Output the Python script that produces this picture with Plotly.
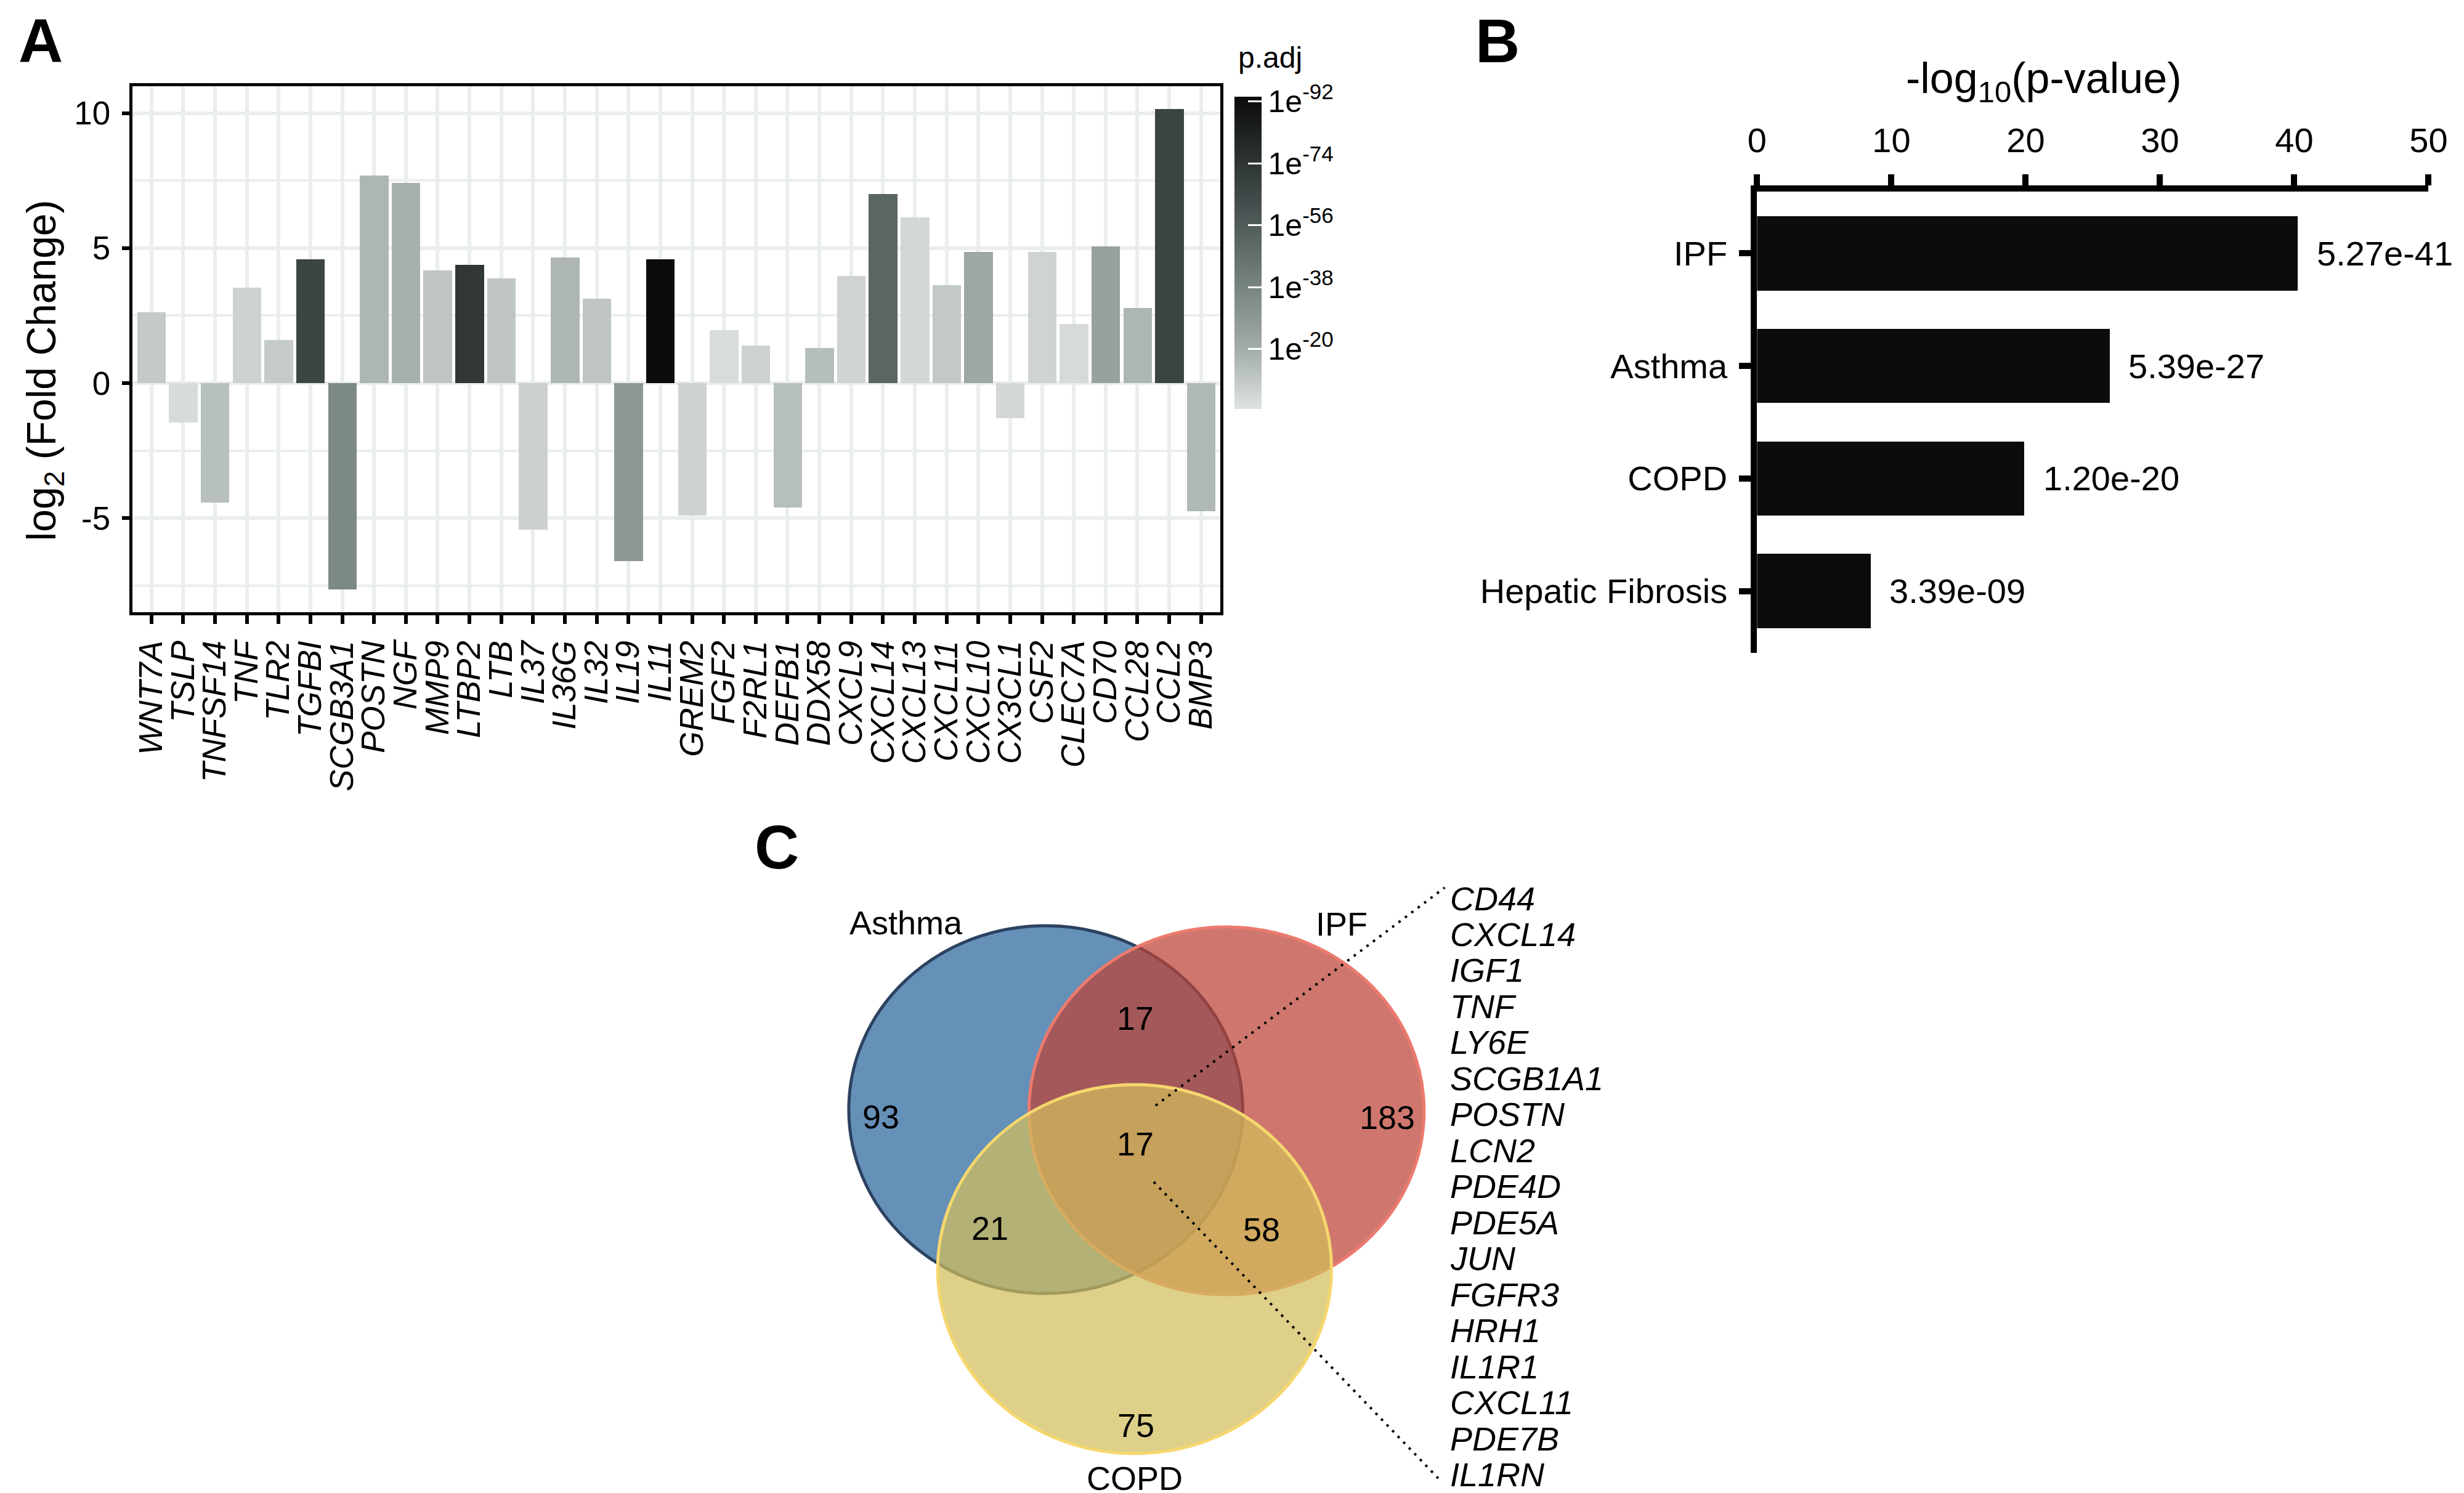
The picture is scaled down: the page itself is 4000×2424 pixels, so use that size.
import plotly.graph_objects as go

W, H = 4000, 2424
FONT = "Liberation Sans, Arial, Helvetica, sans-serif"

# ---------------- Panel A data ----------------
genes = ["WNT7A", "TSLP", "TNFSF14", "TNF", "TLR2", "TGFBI", "SCGB3A1", "POSTN", "NGF",
         "MMP9", "LTBP2", "LTB", "IL37", "IL36G", "IL32", "IL19", "IL11", "GREM2", "FGF2",
         "F2RL1", "DEFB1", "DDX58", "CXCL9", "CXCL14", "CXCL13", "CXCL11", "CXCL10",
         "CX3CL1", "CSF2", "CLEC7A", "CD70", "CCL28", "CCL2", "BMP3"]
log2_fc = [2.62, -1.46, -4.43, 3.54, 1.59, 4.58, -7.65, 7.68, 7.41,
           4.17, 4.39, 3.87, -5.44, 4.65, 3.13, -6.59, 4.59, -4.90, 1.96,
           1.40, -4.62, 1.29, 3.98, 7.00, 6.15, 3.64, 4.87,
           -1.29, 4.87, 2.18, 5.07, 2.79, 10.15, -4.74]
neg_log10_padj = [10.6, 5.0, 13.9, 7.6, 10.2, 66.8, 35.8, 16.9, 18.9,
                  12.2, 72.8, 11.9, 8.2, 16.9, 12.2, 29.1, 93.4, 7.6, 4.6,
                  8.0, 14.0, 14.5, 7.3, 51.8, 6.0, 11.0, 22.5,
                  6.0, 7.3, 5.2, 24.8, 17.0, 67.0, 15.9]
padj_tickvals = [20, 38, 56, 74, 92]
padj_ticktext = ["1e<sup>-20</sup>", "1e<sup>-38</sup>", "1e<sup>-56</sup>",
                 "1e<sup>-74</sup>", "1e<sup>-92</sup>"]

# ---------------- Panel B data ----------------
diseases = ["IPF", "Asthma", "COPD", "Hepatic Fibrosis"]
neg_log10_p = [40.28, 26.27, 19.92, 8.47]
p_labels = ["5.27e-41", "5.39e-27", "1.20e-20", "3.39e-09"]

# ---------------- Panel C data ----------------
venn_sets = ["Asthma", "IPF", "COPD"]
venn_counts = {"A": 93, "I": 183, "C": 75, "AI": 17, "AC": 21, "IC": 58, "AIC": 17}
shared_genes = ["CD44", "CXCL14", "IGF1", "TNF", "LY6E", "SCGB1A1", "POSTN", "LCN2",
                "PDE4D", "PDE5A", "JUN", "FGFR3", "HRH1", "IL1R1", "CXCL11", "PDE7B", "IL1RN"]


def px(x):
    return x / W


def py(y):
    return 1 - y / H


gray_scale = [[0.0, "#dfe3e2"], [0.19, "#a3adab"], [0.39, "#788482"],
              [0.59, "#505b5a"], [0.79, "#2e3434"], [1.0, "#0b0c0b"]]

fig = go.Figure()

# Panel A bars
fig.add_trace(go.Bar(
    x=genes, y=log2_fc, width=0.9, showlegend=False,
    marker=dict(
        color=neg_log10_padj, colorscale=gray_scale, cmin=2.6, cmax=93.4,
        line=dict(width=0),
        colorbar=dict(
            x=px(2004), xanchor="left", xpad=0,
            y=py(149), yanchor="top", ypad=0,
            len=507, lenmode="pixels", thickness=44, thicknessmode="pixels",
            outlinewidth=0,
            tickmode="array", tickvals=padj_tickvals, ticktext=padj_ticktext,
            ticks="inside", ticklen=22, tickwidth=3, tickcolor="white",
            tickfont=dict(size=50, color="black", family=FONT),
        ),
    ),
    xaxis="x", yaxis="y",
))

# Panel B bars
fig.add_trace(go.Bar(
    x=neg_log10_p, y=diseases, orientation="h", width=0.66, showlegend=False,
    marker=dict(color="#0b0c0b", line=dict(width=0)),
    xaxis="x2", yaxis="y2",
))

annotations = []
shapes = []

# colour bar title
annotations.append(dict(x=px(2008), y=py(86), xref="paper", yref="paper", text="p.adj",
                        showarrow=False, xanchor="left", yanchor="middle",
                        font=dict(size=48, color="black", family=FONT)))

# Panel B value labels
for d, v, lab in zip(diseases, neg_log10_p, p_labels):
    annotations.append(dict(x=v, y=d, xref="x2", yref="y2", text=lab, showarrow=False,
                            xanchor="left", yanchor="middle", xshift=28,
                            font=dict(size=56, color="black", family=FONT)))

# Panel letters
for letter, x, y, anchor in [("A", 4, 1.0, "top"), ("B", 2397, 1.0, "top"),
                             ("C", 1213, py(1367), "middle")]:
    annotations.append(dict(x=px(x), y=y, xref="paper", yref="paper", text=f"<b>{letter}</b>",
                            showarrow=False, xanchor="left", yanchor=anchor,
                            font=dict(size=100, color="black", family=FONT)))

# Panel A y title
annotations.append(dict(x=px(49), y=py(593), xref="paper", yref="paper",
                        text="log<sub>2</sub> (Fold Change)", textangle=-90, showarrow=False,
                        xanchor="center", yanchor="middle",
                        font=dict(size=66, color="black", family=FONT)))

# Panel B x title
annotations.append(dict(x=px(3333), y=py(124), xref="paper", yref="paper",
                        text="-log<sub>10</sub>(p-value)", showarrow=False,
                        xanchor="center", yanchor="middle",
                        font=dict(size=70, color="black", family=FONT)))

# ---------------- Venn diagram ----------------
ellipses = [
    # (x0, x1, y0, y1, fill, line)
    (1370, 2017, 1495, 2092, "rgba(41,101,156,0.72)", "#2c4260"),
    (1666, 2315, 1497, 2094, "rgba(188,66,54,0.72)", "#ec7a6e"),
    (1516, 2163, 1753, 2352, "rgba(209,190,92,0.72)", "#f5d76e"),
]
for x0, x1, y0, y1, fill, line in ellipses:
    shapes.append(dict(type="circle", xref="paper", yref="paper",
                       x0=px(x0), x1=px(x1), y0=py(y1), y1=py(y0),
                       fillcolor=fill, line=dict(color=line, width=5), layer="above"))

count_pos = {"A": (1423, 1805), "AI": (1841, 1645), "I": (2254, 1806), "AIC": (1841, 1849),
             "AC": (1602, 1986), "IC": (2048, 1988), "C": (1842, 2306)}
for key, (x, y) in count_pos.items():
    annotations.append(dict(x=px(x), y=py(y), xref="paper", yref="paper",
                            text=str(venn_counts[key]), showarrow=False,
                            xanchor="center", yanchor="middle",
                            font=dict(size=54, color="black", family=FONT)))

label_pos = [(1464, 1490), (2180, 1492), (1840, 2392)]
for name, (x, y) in zip(venn_sets, label_pos):
    annotations.append(dict(x=px(x), y=py(y), xref="paper", yref="paper",
                            text=name, showarrow=False, xanchor="center", yanchor="middle",
                            font=dict(size=54, color="black", family=FONT)))

for i, g in enumerate(shared_genes):
    annotations.append(dict(x=px(2356), y=py(1450.5 + i * 58.47), xref="paper", yref="paper",
                            text=g, showarrow=False, xanchor="left", yanchor="middle",
                            font=dict(size=54, color="black", family=FONT, style="italic")))

# dotted leader lines
for (x0, y0, x1, y1) in [(1874, 1787, 2349, 1433), (1871, 1911, 2343, 2397)]:
    shapes.append(dict(type="line", xref="paper", yref="paper",
                       x0=px(x0), y0=py(y0), x1=px(x1), y1=py(y1),
                       line=dict(color="black", width=4, dash="4px,9px"), layer="above"))

grid_col = "#ebeeee"

fig.update_layout(
    width=W, height=H, autosize=False,
    margin=dict(l=0, r=0, t=0, b=0),
    paper_bgcolor="white", plot_bgcolor="rgba(0,0,0,0)",
    font=dict(family=FONT, color="black"),
    bargap=0,
    xaxis=dict(
        domain=[px(193), px(1980)], anchor="y",
        type="category", categoryorder="array", categoryarray=genes,
        tickmode="array", tickvals=genes, ticktext=genes,
        range=[-0.6, len(genes) - 0.4],
        tickangle=-90, tickfont=dict(size=53, family=FONT, style="italic", color="black"),
        ticks="outside", ticklen=14, tickwidth=6, tickcolor="black",
        showline=True, linecolor="black", linewidth=5, mirror=True,
        showgrid=True, gridcolor=grid_col, gridwidth=6, zeroline=False,
        ticklabelstandoff=6,
    ),
    yaxis=dict(
        domain=[py(986), py(132)], anchor="x",
        range=[-8.49, 11.0], tickmode="array", tickvals=[-5, 0, 5, 10],
        ticktext=["-5", "0", "5", "10"],
        tickfont=dict(size=53, family=FONT, color="black"),
        ticks="outside", ticklen=12, tickwidth=6, tickcolor="black",
        showline=True, linecolor="black", linewidth=5, mirror=True,
        showgrid=True, gridcolor=grid_col, gridwidth=6, zeroline=False,
        minor=dict(tickmode="array", tickvals=[-7.5, -2.5, 2.5, 7.5], showgrid=True,
                   gridcolor=grid_col, gridwidth=4, ticks=""),
        ticklabelstandoff=8,
    ),
    xaxis2=dict(
        domain=[px(2862), px(3965)], anchor="y2", side="top",
        range=[0, 50], tickmode="array", tickvals=[0, 10, 20, 30, 40, 50],
        tickfont=dict(size=56, family=FONT, color="black"),
        ticks="outside", ticklen=18, tickwidth=10, tickcolor="black",
        showline=True, linecolor="black", linewidth=10,
        showgrid=False, zeroline=False, ticklabelstandoff=14,
    ),
    yaxis2=dict(
        domain=[py(1052), py(303)], anchor="x2",
        type="category", categoryorder="array", categoryarray=diseases,
        range=[3.55, -0.55],
        tickfont=dict(size=56, family=FONT, color="black"),
        ticks="outside", ticklen=19, tickwidth=10, tickcolor="black",
        showline=True, linecolor="black", linewidth=10,
        showgrid=False, zeroline=False, ticklabelstandoff=8,
    ),
    annotations=annotations,
    shapes=shapes,
)

fig.write_html("out.html")
